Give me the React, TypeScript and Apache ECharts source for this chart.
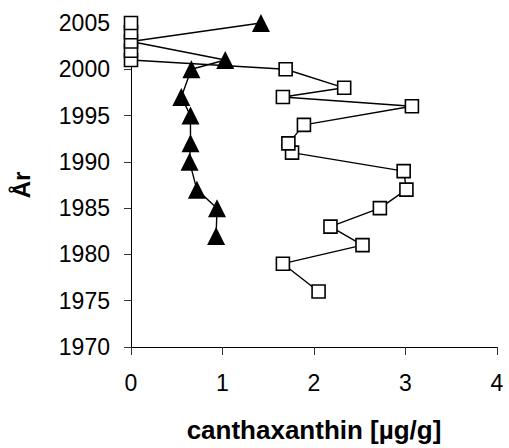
import React, { useEffect, useRef } from "react";
import * as echarts from "echarts";

const squareYears = [1976, 1979, 1981, 1983, 1985, 1987, 1989, 1991, 1992, 1994, 1996, 1997, 1998, 2000, 2001, 2002, 2003, 2004, 2005];
const squareValues = [2.05, 1.66, 2.53, 2.18, 2.72, 3.01, 2.98, 1.76, 1.72, 1.89, 3.07, 1.66, 2.33, 1.69, 0, 0, 0, 0, 0];

const triangleYears = [1982, 1985, 1987, 1990, 1992, 1995, 1997, 2000, 2001, 2003, 2005];
const triangleValues = [0.93, 0.94, 0.72, 0.64, 0.65, 0.65, 0.55, 0.66, 1.03, 0, 1.42];

const xTitle = "canthaxanthin [µg/g]";
const yTitle = "År";

export default function App() {
  const ref = useRef<HTMLDivElement>(null);
  useEffect(() => {
    if (!ref.current) return;
    const chart = echarts.init(ref.current, undefined, { renderer: "svg" });
    const font = "'Liberation Sans', Arial, sans-serif";
    chart.setOption({
      animation: false,
      backgroundColor: "#ffffff",
      grid: { left: 131, right: 12, top: 23, bottom: 101, containLabel: false, outerBoundsMode: "none" },
      xAxis: {
        type: "value",
        min: 0,
        max: 4,
        interval: 1,
        name: xTitle,
        nameLocation: "middle",
        nameGap: 70,
        nameTextStyle: { fontFamily: font, fontSize: 26, fontWeight: "bold", color: "#000" },
        axisLine: { show: true, lineStyle: { color: "#000", width: 1 } },
        axisTick: { show: true, inside: false, length: 8, lineStyle: { color: "#333" } },
        axisLabel: { fontFamily: font, fontSize: 23, color: "#000", margin: 24 },
        splitLine: { show: false },
      },
      yAxis: {
        type: "value",
        min: 1970,
        max: 2005,
        interval: 5,
        name: yTitle,
        nameLocation: "middle",
        nameRotate: 90,
        nameGap: 98,
        nameTextStyle: { fontFamily: font, fontSize: 24, fontWeight: "bold", color: "#000" },
        axisLine: { show: true, lineStyle: { color: "#000", width: 1 } },
        axisTick: { show: true, inside: false, length: 7, lineStyle: { color: "#333" } },
        axisLabel: { fontFamily: font, fontSize: 23, color: "#000", margin: 21, formatter: (v: number) => String(v) },
        splitLine: { show: false },
      },
      series: [
        {
          type: "line",
          data: triangleValues.map((v, i) =>
            v === 0
              ? { value: [v, triangleYears[i]], symbol: "none" }
              : [v, triangleYears[i]]
          ),
          symbol: "triangle",
          symbolSize: 18,
          itemStyle: { color: "#000" },
          lineStyle: { color: "#000", width: 1.4 },
          z: 2,
        },
        {
          type: "line",
          data: squareValues.map((v, i) => [v, squareYears[i]]),
          symbol: "rect",
          symbolSize: 13,
          itemStyle: { color: "#fff", borderColor: "#000", borderWidth: 1.6 },
          lineStyle: { color: "#000", width: 1.4 },
          z: 3,
        },
      ],
    });
    return () => chart.dispose();
  }, []);
  return (
    <div
      ref={ref}
      style={{ position: "fixed", left: 0, top: 0, width: 509, height: 448 }}
    />
  );
}
